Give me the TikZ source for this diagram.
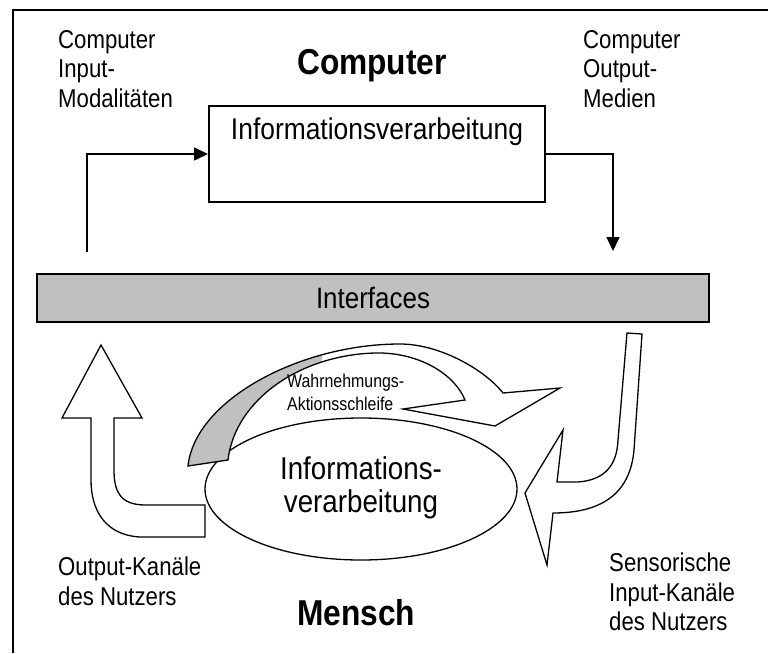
\documentclass[tikz,border=0pt]{standalone}
\usepackage{fontspec}
\setmainfont{Liberation Sans}
\newfontfamily\condf[FakeStretch=0.88]{Liberation Sans}
\newfontfamily\sidef[FakeStretch=0.86]{Liberation Sans}
\usetikzlibrary{arrows.meta,shapes.geometric}
\definecolor{bargray}{RGB}{192,192,192}
\begin{document}
\begin{tikzpicture}[x=1pt,y=-1pt,
  frameline/.style={line width=2pt},
  boxstyle/.style={draw, line width=2pt, minimum width=336pt, minimum height=96pt, inner sep=0pt},
  conn/.style={line width=1.6pt, -{Triangle[length=14pt,width=13pt]}},
  bigarrow/.style={draw, line width=1.3pt, fill=white, line join=miter},
  sidelabel/.style={font=\sidef\fontsize{25.8}{29.5}\selectfont, align=left, anchor=north west, inner sep=0pt},
  looplabel/.style={font=\sidef\fontsize{18.5}{23}\selectfont, align=left, anchor=north west, inner sep=0pt},
  titlelabel/.style={font=\condf\bfseries\fontsize{36}{38}\selectfont, inner sep=0pt},
  mainlabel/.style={font=\condf\fontsize{30}{33}\selectfont, inner sep=0pt}]
\useasboundingbox (0,0) rectangle (768,653);
% frame
\draw[frameline] (768,10) -- (13,10) -- (13,653);
% computer box
\node[boxstyle] (cbox) at (377,154) {};
\node[mainlabel, anchor=base] (cboxtxt) at (377,139) {Informationsverarbeitung};
\node[titlelabel] (ctitle) at (372,66) {Computer};
% connectors
\coordinate (inStart) at (87,252);
\coordinate (outEnd) at (613,251);
\draw[conn] (inStart) |- (cbox.west);
\draw[conn] (cbox.east) -| (outEnd);
% interfaces
\node[draw, line width=1.5pt, fill=bargray, minimum width=672pt, minimum height=48pt, inner sep=0pt, font=\condf\fontsize{29.5}{32}\selectfont] (iface) at (373,298) {Interfaces};
% human
\node[ellipse, draw, line width=1.3pt, minimum width=312pt, minimum height=142pt, inner sep=0pt] (mell) at (361,489) {};
\node[font=\condf\fontsize{31.5}{33}\selectfont, align=center, anchor=north, inner sep=0pt] (melltxt) at (361,456) {Informations-\\verarbeitung};
% ribbon (perception-action loop)
\begin{scope}
\fill[white] (188,466) .. controls (195,400) and (300,344) .. (400,344) .. controls (440,344) and (485,370) .. (503,393) -- (560,388) -- (495,426) -- (403,409) -- (465,400) .. controls (455,375) and (420,352) .. (375,353) .. controls (300,355) and (235,400) .. (228,460) -- cycle;
\clip (0,300) rectangle (322,480);
\fill[bargray] (188,466) .. controls (195,400) and (300,344) .. (400,344) .. controls (440,344) and (485,370) .. (503,393) -- (560,388) -- (495,426) -- (403,409) -- (465,400) .. controls (455,375) and (420,352) .. (375,353) .. controls (300,355) and (235,400) .. (228,460) -- cycle;
\end{scope}
\draw[line width=1.3pt, line join=miter] (188,466) .. controls (195,400) and (300,344) .. (400,344) .. controls (440,344) and (485,370) .. (503,393) -- (560,388) -- (495,426) -- (403,409) -- (465,400) .. controls (455,375) and (420,352) .. (375,353) .. controls (300,355) and (235,400) .. (228,460) -- cycle;
\node[looplabel] (loop) at (287,374) {Wahrnehmungs-\\Aktionsschleife};
% big arrows
\draw[bigarrow] (101,345) -- (142,418) -- (114,418) -- (114,470) .. controls (114,495) and (123,505) .. (146,505) -- (205,505) -- (205,537) -- (140,537) .. controls (105,535) and (91,510) .. (91,480) -- (91,418) -- (62,418) -- cycle;
\draw[bigarrow] (627,333) -- (642,334) -- (634,450) .. controls (630,495) and (600,513) .. (553,513) -- (547,565) -- (525,493) -- (563,430) -- (557,482) -- (578,482) .. controls (605,480) and (617,465) .. (618,440) -- cycle;
% labels
\node[sidelabel] (cin) at (58,30) {Computer\\Input-\\Modalitäten};
\node[sidelabel] (cout) at (583,30) {Computer\\Output-\\Medien};
\node[sidelabel] (uout) at (58,557) {Output-Kanäle\\des Nutzers};
\node[sidelabel] (uin) at (609,553) {Sensorische\\Input-Kanäle\\des Nutzers};
\node[titlelabel] (mtitle) at (356,613) {Mensch};
\end{tikzpicture}
\end{document}
